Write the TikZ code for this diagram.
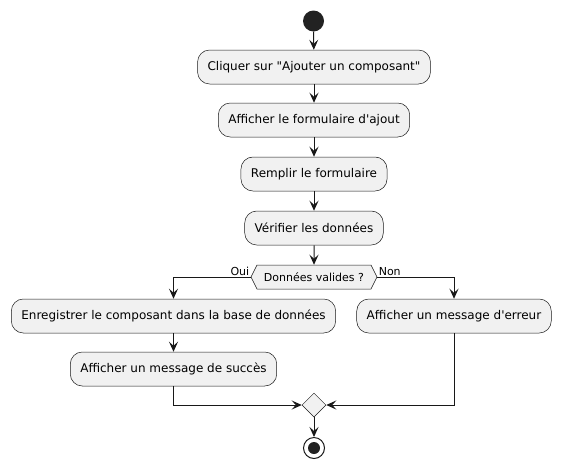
\documentclass[tikz,border=0pt]{standalone}
\usepackage{fontspec}
\setmainfont{DejaVu Sans}[Ligatures=TeXOff]
\usetikzlibrary{arrows.meta,shapes.geometric,shapes.symbols}

\definecolor{boxfill}{HTML}{F1F1F1}
\definecolor{ink}{HTML}{181818}
\definecolor{dot}{HTML}{222222}

\tikzset{
  action/.style={draw=ink, fill=boxfill, line width=0.5pt, rounded corners=12pt, minimum height=34pt, inner xsep=10pt, font=\fontsize{12}{14}\selectfont},
  flow/.style={draw=ink, line width=1pt, -{Stealth[length=10pt,width=9pt,inset=4pt]}},
  lbl/.style={font=\fontsize{11}{13}\selectfont, inner sep=1pt},
}

\begin{document}
\begin{tikzpicture}[x=1pt,y=-1pt]
\useasboundingbox (0,0) rectangle (561,469);

\node[circle, fill=dot, minimum size=21pt, inner sep=0pt] (start) at (313.5,21) {};
\node[action] (click) at (314,67) {Cliquer sur "Ajouter un composant"};
\node[action] (form) at (314,120) {Afficher le formulaire d'ajout};
\node[action] (fill) at (314,174) {Remplir le formulaire};
\node[action] (check) at (314,228) {Vérifier les données};
\node[signal, signal to=west and east, signal pointer angle=127, draw=ink, fill=boxfill, line width=0.5pt, minimum height=24pt, minimum width=126pt, inner sep=1pt, font=\fontsize{11}{13}\selectfont] (valid) at (314,277) {Données valides ?};

\node[action] (save) at (173.5,316) {Enregistrer le composant dans la base de données};
\node[action] (success) at (173.5,369) {Afficher un message de succès};
\node[action] (error) at (454,316) {Afficher un message d'erreur};

\node[diamond, draw=ink, fill=boxfill, line width=0.5pt, minimum size=24pt, inner sep=0pt] (merge) at (314,405) {};
\node[circle, draw=ink, line width=1pt, minimum size=21pt, inner sep=0pt] (stop) at (314,448) {};
\fill[dot] (stop) circle (6pt);

\draw[flow] (start) -- (click);
\draw[flow] (click) -- (form);
\draw[flow] (form) -- (fill);
\draw[flow] (fill) -- (check);
\draw[flow] (check) -- (valid);
\draw[flow] (valid.west) node[lbl, anchor=south east] {Oui} -| (save);
\draw[flow] (valid.east) node[lbl, anchor=south west] {Non} -| (error);
\draw[flow] (save) -- (success);
\draw[flow] (success) |- (merge);
\draw[flow] (error) |- (merge);
\draw[flow] (merge) -- (stop);
\end{tikzpicture}
\end{document}
